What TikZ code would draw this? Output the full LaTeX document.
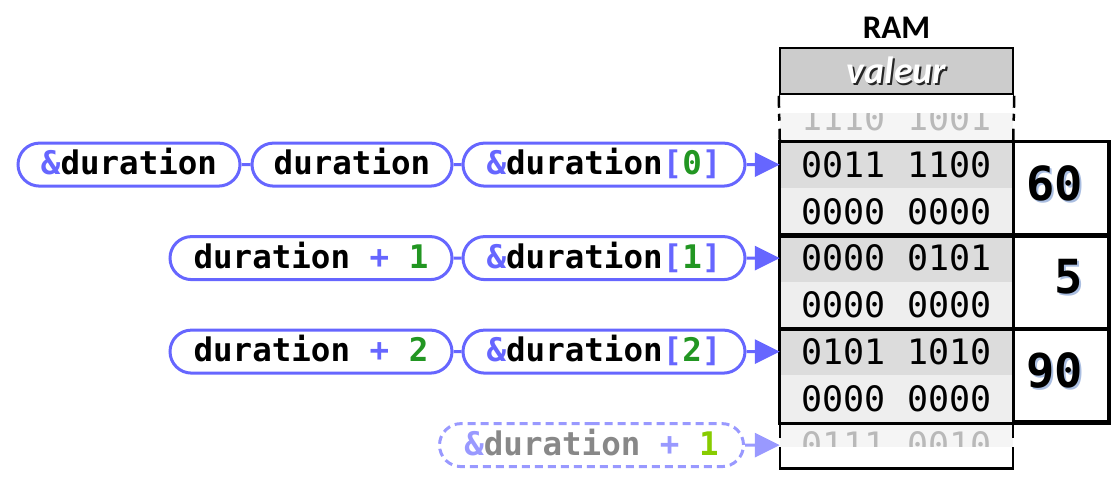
\documentclass[tikz,border=0pt]{standalone}
\usepackage{xcolor}
\usepackage{fontspec}
\usepackage{tikz}
\usetikzlibrary{arrows.meta, shapes.misc}
\newfontfamily\codefont{DejaVu Sans Mono}
\newfontfamily\titlefont{Carlito}
\definecolor{pillblue}{RGB}{102,102,255}
\definecolor{ghostblue}{RGB}{153,153,255}
\definecolor{idxgreen}{RGB}{34,150,34}
\definecolor{ghostgreen}{RGB}{136,204,0}
\definecolor{ghostgray}{RGB}{136,136,136}
\definecolor{rowdark}{RGB}{220,220,220}
\definecolor{rowlight}{RGB}{238,238,238}
\definecolor{rowfade}{RGB}{245,245,245}
\definecolor{headgray}{RGB}{204,204,204}
\definecolor{bitsfade}{RGB}{185,185,185}
\definecolor{numshadow}{RGB}{170,190,225}
\newcommand{\castshadow}[3]{\makebox[0pt][l]{\hspace{#2}\raisebox{-#2}{\textcolor{#1}{#3}}}#3}
\newcommand{\ampr}[1]{\textcolor{#1}{\&}}

\begin{document}
\begin{tikzpicture}[x=1pt, y=-1pt,
    pill/.style={draw=pillblue, line width=3pt, rounded rectangle, minimum height=43pt,
      inner sep=0pt, text height=26pt, text depth=6pt, fill=white,
      font=\codefont\bfseries\fontsize{32.5}{36}\selectfont},
    ghost/.style={pill, draw=ghostblue, dash pattern=on 8pt off 5pt, text=ghostgray},
    cell/.style={minimum width=233pt, minimum height=46.75pt, inner sep=0pt,
      font=\codefont\fontsize{35}{40}\selectfont},
    valbox/.style={draw, line width=3pt, fill=white, minimum width=95pt, minimum height=93.5pt, inner sep=0pt},
    val/.style={anchor=east, inner sep=0pt, font=\codefont\bfseries\fontsize{47}{52}\selectfont},
    group/.style={draw, line width=3pt},
    rim/.style={draw, line width=2.5pt},
    link/.style={draw=pillblue, line width=3pt},
    ptr/.style={link, -{Triangle[length=25pt, width=24pt]}}]
\useasboundingbox (0,0) rectangle (1117,488);

\node[font=\titlefont\bfseries\fontsize{33}{36}\selectfont] (ram) at (896.5,27.5) {RAM};
\node[rim, fill=headgray, minimum width=233pt, minimum height=46.5pt, inner sep=0pt, text=white,
  font=\titlefont\bfseries\itshape\fontsize{38}{42}\selectfont] (hd) at (896.5,71.25) {\castshadow{black!85}{1.5pt}{valeur}};

\node[cell, fill=rowfade, text=bitsfade] (t) at (896.5,117.9) {1110 1001};
\fill[white] (780,94.5) rectangle (1013,113);
\draw[rim, dash pattern=on 12pt off 6pt on 7pt off 8pt on 30pt] (hd.south west) -- (t.south west);
\draw[rim, dash pattern=on 12pt off 6pt on 7pt off 8pt on 30pt] (hd.south east) -- (t.south east);

\foreach \i/\bits/\tone in {1/0011 1100/rowdark, 2/0000 0000/rowlight, 3/0000 0101/rowdark,
    4/0000 0000/rowlight, 5/0101 1010/rowdark, 6/0000 0000/rowlight}
  \node[cell, fill=\tone] (m\i) at (896.5,94.5+\i*46.75+23.375) {\bits};

\node[cell, fill=rowfade, text=bitsfade] (b) at (896.5,445.1) {0111 0010};
\fill[white] (780,447) rectangle (1013,468.5);
\draw[rim] (780,438) -- (780,421.75) (1013,438) -- (1013,421.75);
\draw[rim] (780,447) -- (780,468.5) -- (1013,468.5) -- (1013,447);

\node[valbox] (v1) at (1060.5,188) {};
\node[valbox] (v2) at (1060.5,281.5) {};
\node[valbox] (v3) at (1060.5,375) {};
\node[val] (n1) at (1083,184.5) {\castshadow{numshadow}{2pt}{60}};
\node[val] (n2) at (1083,278) {\castshadow{numshadow}{2pt}{5}};
\node[val] (n3) at (1083,371.5) {\castshadow{numshadow}{2pt}{90}};
\draw[group] (m1.north west) rectangle (v1.south east);
\draw[group] (m3.north west) rectangle (v2.south east);
\draw[group] (m5.north west) rectangle (v3.south east);

\node[pill, minimum width=222pt] (a0) at (129,164.6) {\ampr{pillblue}duration};
\node[pill, minimum width=200pt] (d0) at (352,164.6) {duration};
\node[pill, minimum width=282pt] (e0) at (604,164.6)
  {\ampr{pillblue}duration\textcolor{pillblue}{[}\textcolor{idxgreen}{0}\textcolor{pillblue}{]}};
\node[pill, minimum width=282pt] (d1) at (311,258.1)
  {duration \textcolor{pillblue}{+} \textcolor{idxgreen}{1}};
\node[pill, minimum width=282pt] (e1) at (604,258.1)
  {\ampr{pillblue}duration\textcolor{pillblue}{[}\textcolor{idxgreen}{1}\textcolor{pillblue}{]}};
\node[pill, minimum width=282pt] (d2) at (311,351.6)
  {duration \textcolor{pillblue}{+} \textcolor{idxgreen}{2}};
\node[pill, minimum width=282pt] (e2) at (604,351.6)
  {\ampr{pillblue}duration\textcolor{pillblue}{[}\textcolor{idxgreen}{2}\textcolor{pillblue}{]}};
\node[ghost, minimum width=304pt] (g) at (591.5,445.1)
  {\ampr{ghostblue}duration \textcolor{ghostblue}{+} \textcolor{ghostgreen}{1}};

\draw[link] (a0)--(d0)--(e0);
\draw[link] (d1)--(e1);
\draw[link] (d2)--(e2);
\draw[ptr] (e0) -- (m1.west);
\draw[ptr] (e1) -- (m3.west);
\draw[ptr] (e2) -- (m5.west);
\draw[ptr, draw=ghostblue] (g) -- (b.west);
\end{tikzpicture}
\end{document}
